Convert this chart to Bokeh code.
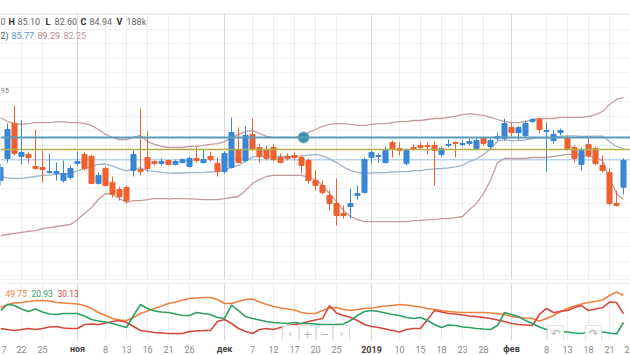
from bokeh.plotting import figure
from bokeh.layouts import column
from bokeh.models import ColumnDataSource, Range1d, Span, Label, Grid, FixedTicker
from bokeh.core.properties import value
from bokeh.embed import file_html
from bokeh.resources import INLINE

# ---------------- data ----------------
dates = [
    "2018-10-17", "2018-10-18", "2018-10-19", "2018-10-22", "2018-10-23", "2018-10-24", "2018-10-25",
    "2018-10-26", "2018-10-29", "2018-10-30", "2018-10-31",
    "2018-11-01", "2018-11-02", "2018-11-06", "2018-11-07", "2018-11-08", "2018-11-09", "2018-11-12",
    "2018-11-13", "2018-11-14", "2018-11-15", "2018-11-16", "2018-11-19", "2018-11-20", "2018-11-21",
    "2018-11-22", "2018-11-23", "2018-11-26", "2018-11-27", "2018-11-28", "2018-11-29", "2018-11-30",
    "2018-12-03", "2018-12-04", "2018-12-05", "2018-12-06", "2018-12-07", "2018-12-10", "2018-12-11",
    "2018-12-12", "2018-12-13", "2018-12-14", "2018-12-17", "2018-12-18", "2018-12-19", "2018-12-20",
    "2018-12-21", "2018-12-24", "2018-12-25", "2018-12-26", "2018-12-27", "2018-12-28", "2018-12-29",
    "2019-01-03", "2019-01-04", "2019-01-08", "2019-01-09", "2019-01-10", "2019-01-11", "2019-01-14",
    "2019-01-15", "2019-01-16", "2019-01-17", "2019-01-18", "2019-01-21", "2019-01-22", "2019-01-23",
    "2019-01-24", "2019-01-25", "2019-01-28", "2019-01-29", "2019-01-30", "2019-01-31",
    "2019-02-01", "2019-02-04", "2019-02-05", "2019-02-06", "2019-02-07", "2019-02-08", "2019-02-11",
    "2019-02-12", "2019-02-13", "2019-02-14", "2019-02-15", "2019-02-18", "2019-02-19", "2019-02-20",
    "2019-02-21", "2019-02-22", "2019-02-25",
]
next_session = "2019-02-26"

opens = [83.56, 85.08, 87.50, 85.22, 85.36, 84.53, 84.46, 84.11, 84.04, 83.56,
         83.77, 84.74, 85.36, 85.22, 83.36, 84.39, 83.42, 82.94, 83.08, 84.25,
         84.32, 85.15, 84.87, 84.74, 84.94, 84.67, 84.80, 84.53, 85.08, 84.80,
         85.22, 84.74, 84.18, 84.46, 85.70, 84.94, 86.74, 85.84, 85.70, 85.84,
         85.15, 85.22, 85.29, 85.15, 84.94, 83.56, 83.22, 82.53, 81.98, 81.29,
         81.77, 82.53, 82.73, 85.15, 85.22, 84.80, 86.18, 85.77, 84.74, 85.84,
         85.98, 85.98, 85.98, 85.36, 85.98, 86.18, 86.05, 86.11, 85.77, 86.46,
         85.91, 86.46, 86.46, 87.22, 86.87, 86.67, 87.63, 87.77, 86.94, 86.32,
         86.87, 86.46, 85.84, 84.67, 86.05, 85.77, 84.60, 84.11, 81.98, 83.10]
highs = [84.74, 87.50, 88.74, 87.70, 85.49, 87.08, 85.63, 85.43, 84.80, 84.94,
         84.60, 85.56, 85.49, 85.36, 84.11, 84.53, 83.84, 83.15, 83.22, 85.63,
         88.53, 86.94, 84.94, 85.08, 85.01, 85.01, 85.08, 85.22, 85.91, 85.63,
         85.56, 85.15, 85.56, 87.91, 87.22, 87.29, 87.84, 86.11, 85.98, 86.05,
         85.43, 85.43, 85.49, 85.29, 85.08, 84.25, 83.56, 82.87, 83.70, 81.84,
         83.01, 83.22, 85.15, 85.63, 85.43, 85.91, 86.32, 86.18, 85.77, 86.05,
         86.18, 86.18, 86.25, 85.91, 86.39, 86.25, 86.32, 86.46, 86.46, 86.60,
         86.46, 86.87, 87.84, 87.56, 87.36, 87.70, 87.84, 87.91, 87.56, 87.01,
         87.15, 86.67, 85.98, 85.84, 86.46, 85.91, 85.29, 84.39, 82.87, 85.10]
lows = [83.22, 84.80, 85.29, 84.67, 84.74, 84.32, 83.42, 84.04, 83.56, 83.42,
        83.63, 84.60, 84.25, 83.29, 83.29, 83.15, 82.39, 82.18, 81.98, 83.84,
        83.91, 84.18, 84.60, 84.60, 84.60, 84.60, 84.74, 84.46, 84.80, 84.74,
        84.87, 83.84, 84.04, 84.39, 84.74, 84.80, 85.63, 84.80, 84.94, 84.87,
        84.74, 84.94, 84.94, 84.05, 83.36, 82.87, 82.60, 81.49, 80.46, 80.94,
        80.94, 82.25, 82.66, 84.74, 84.80, 84.74, 85.15, 85.29, 84.60, 85.63,
        85.70, 85.36, 83.22, 85.22, 85.84, 85.15, 85.91, 85.98, 85.63, 85.98,
        85.70, 86.32, 86.32, 86.60, 86.32, 86.53, 87.56, 86.80, 84.18, 86.11,
        86.67, 85.63, 84.80, 84.25, 85.15, 84.60, 84.11, 81.84, 81.77, 82.60]
closes = [84.46, 87.08, 85.43, 85.49, 85.15, 84.39, 84.32, 84.18, 84.18, 84.04,
          84.39, 84.87, 84.39, 83.36, 83.91, 83.22, 82.60, 82.46, 82.18, 85.36,
          84.18, 84.39, 84.74, 84.87, 84.67, 84.87, 85.01, 85.08, 84.94, 85.01,
          85.01, 84.18, 85.43, 86.87, 84.80, 86.67, 85.77, 85.22, 85.08, 85.01,
          84.80, 85.08, 85.15, 84.60, 83.56, 83.22, 82.73, 81.98, 81.15, 81.15,
          81.98, 82.66, 85.01, 85.49, 85.29, 85.70, 85.77, 85.63, 85.63, 85.70,
          85.84, 85.91, 85.63, 85.77, 86.05, 86.11, 86.11, 86.25, 86.32, 86.11,
          86.32, 86.60, 87.49, 86.87, 87.22, 87.49, 87.77, 87.08, 87.01, 86.74,
          87.01, 85.77, 85.08, 85.63, 85.29, 84.74, 84.25, 81.98, 81.84, 84.94]

# Bollinger bands (20, 2)
bb_upper = [87.91, 87.63, 87.49, 87.43, 87.49, 87.56, 87.56, 87.56, 87.60, 87.60,
            87.56, 87.56, 87.49, 87.36, 87.08, 86.74, 86.53, 86.39, 86.39, 86.53,
            86.67, 86.25, 86.05, 85.91, 85.84, 85.84, 85.84, 85.91, 85.91, 85.98,
            86.05, 86.11, 86.25, 86.53, 86.74, 86.94, 87.01, 86.80, 86.60, 86.53,
            86.53, 86.53, 86.53, 86.60, 86.87, 87.08, 87.29, 87.43, 87.49, 87.49,
            87.43, 87.36, 87.36, 87.43, 87.49, 87.49, 87.56, 87.63, 87.63, 87.70,
            87.70, 87.77, 87.84, 87.84, 87.91, 87.98, 88.11, 88.18, 88.11, 88.05,
            87.91, 87.77, 87.63, 87.56, 87.56, 87.63, 87.77, 87.84, 87.84, 87.84,
            87.91, 87.91, 87.91, 87.91, 87.98, 88.11, 88.32, 88.80, 89.15, 89.29]
bb_middle = [83.84, 83.74, 83.70, 83.71, 83.77, 83.84, 83.91, 83.94, 84.00, 84.03,
             84.05, 84.22, 84.39, 84.53, 84.67, 84.70, 84.57, 84.36, 84.22, 84.36,
             84.43, 84.25, 84.19, 84.12, 84.07, 84.08, 84.08, 84.11, 84.10, 84.12,
             84.15, 84.18, 84.29, 84.46, 84.60, 84.91, 85.19, 85.22, 85.22, 85.22,
             85.22, 85.22, 85.22, 85.26, 85.32, 85.36, 85.26, 85.05, 84.80, 84.49,
             84.26, 84.12, 84.05, 84.08, 84.11, 84.11, 84.15, 84.18, 84.18, 84.25,
             84.25, 84.32, 84.36, 84.39, 84.43, 84.50, 84.60, 84.87, 85.05, 85.36,
             85.74, 86.29, 86.36, 86.32, 86.32, 86.36, 86.46, 86.50, 86.50, 86.53,
             86.60, 86.64, 86.64, 86.60, 86.60, 86.63, 86.63, 86.25, 85.91, 85.77]
bb_lower = [79.77, 79.84, 79.91, 79.98, 80.05, 80.11, 80.25, 80.32, 80.39, 80.46,
            80.53, 80.87, 81.29, 81.70, 82.25, 82.66, 82.60, 82.32, 82.05, 82.18,
            82.18, 82.25, 82.32, 82.32, 82.30, 82.32, 82.32, 82.30, 82.28, 82.25,
            82.25, 82.25, 82.32, 82.39, 82.46, 82.87, 83.36, 83.63, 83.84, 83.91,
            83.91, 83.91, 83.91, 83.91, 83.77, 83.63, 83.22, 82.66, 82.11, 81.49,
            81.08, 80.87, 80.73, 80.73, 80.73, 80.73, 80.73, 80.73, 80.73, 80.80,
            80.80, 80.87, 80.87, 80.94, 80.94, 81.01, 81.08, 81.56, 81.98, 82.66,
            83.56, 84.80, 85.08, 85.08, 85.08, 85.08, 85.15, 85.15, 85.15, 85.22,
            85.29, 85.36, 85.36, 85.29, 85.22, 85.15, 84.94, 83.70, 82.66, 82.25]

# lower pane indicator (ADX / +DI / -DI)
adx = [36.9, 40.1, 41.7, 42.2, 43.3, 44.4, 44.4, 43.9, 42.2, 41.7,
       41.2, 40.6, 39.0, 35.9, 31.6, 28.4, 25.2, 23.6, 23.1, 26.3,
       30.5, 33.2, 35.9, 38.5, 41.2, 42.7, 44.9, 46.5, 47.0, 47.6,
       47.6, 45.4, 41.2, 41.2, 43.3, 45.4, 46.0, 42.7, 40.1, 38.0,
       36.4, 35.3, 34.3, 31.6, 30.5, 30.5, 33.7, 36.4, 36.9, 34.8,
       33.7, 34.8, 35.9, 36.4, 37.4, 38.5, 39.0, 40.1, 39.6, 38.5,
       37.4, 35.9, 34.8, 33.7, 32.7, 32.1, 31.6, 31.6, 31.6, 31.6,
       31.1, 30.5, 29.5, 27.3, 26.3, 25.7, 25.2, 22.6, 25.2, 28.4,
       32.7, 35.9, 38.5, 40.6, 42.2, 43.3, 44.9, 49.7, 53.4, 49.75]
di_plus = [33.7, 40.1, 39.0, 35.3, 32.7, 35.3, 32.1, 30.0, 29.5, 30.5,
           30.5, 30.5, 27.9, 24.1, 22.6, 21.5, 19.9, 17.8, 15.6, 28.4,
           40.1, 35.9, 33.2, 32.1, 31.6, 30.0, 28.4, 28.4, 31.6, 30.5,
           29.5, 26.3, 25.2, 39.5, 33.7, 27.3, 25.2, 23.6, 22.0, 21.0,
           20.4, 19.9, 21.0, 19.9, 19.9, 19.4, 18.8, 18.8, 18.8, 19.4,
           23.1, 28.4, 32.7, 33.7, 32.7, 31.1, 29.5, 28.4, 26.3, 25.2,
           26.3, 23.1, 18.8, 15.6, 18.3, 17.8, 16.2, 15.6, 14.6, 14.0,
           13.5, 17.8, 31.6, 29.5, 27.3, 23.1, 19.9, 16.2, 13.5, 12.4,
           11.4, 10.8, 9.8, 9.3, 10.8, 11.9, 10.8, 9.8, 8.7, 20.93]
di_minus = [14.6, 13.5, 12.4, 13.5, 14.6, 13.5, 14.6, 16.2, 16.7, 15.1,
            14.6, 14.6, 18.8, 19.4, 18.8, 20.4, 22.0, 23.1, 21.0, 16.7,
            12.4, 11.4, 10.3, 9.8, 9.3, 9.3, 9.3, 11.4, 11.9, 12.4,
            12.4, 22.0, 24.1, 19.9, 14.6, 11.4, 9.3, 13.5, 14.6, 13.5,
            15.6, 17.8, 18.8, 19.9, 22.0, 23.6, 25.2, 39.0, 31.1, 28.4,
            26.3, 23.1, 18.8, 16.7, 15.6, 14.0, 12.4, 10.8, 13.5, 14.6,
            14.6, 24.1, 33.7, 32.1, 30.5, 30.0, 28.9, 27.9, 27.3, 26.3,
            25.2, 23.6, 22.0, 19.9, 18.8, 18.3, 17.8, 29.5, 35.9, 31.6,
            32.7, 33.7, 36.9, 39.0, 33.7, 35.3, 36.9, 42.7, 42.2, 30.13]

level_blue = 86.53
level_olive = 85.70
price_line = 85.00
marker_bar = 43.3

# tick labels: the first and last ones are only partly visible at the picture's edges
tick_dates = ["2018-10-22", "2018-10-25", "2018-11-01", "2018-11-08", "2018-11-13",
              "2018-11-16", "2018-11-21", "2018-11-26", "2018-12-03", "2018-12-07", "2018-12-12",
              "2018-12-17", "2018-12-20", "2018-12-25", "2019-01-03", "2019-01-10", "2019-01-15",
              "2019-01-18", "2019-01-23", "2019-01-28", "2019-02-01", "2019-02-08", "2019-02-13",
              "2019-02-18", "2019-02-21"]
tick_labels = ["22", "25", "ноя", "8", "13", "16", "21", "26", "дек", "7", "12", "17", "20",
               "25", "2019", "10", "15", "18", "23", "28", "фев", "8", "13", "18", "21"]
edge_tick_dates = ["2018-10-17", "2019-02-26"]
edge_tick_visible = ["7", "2"]
month_labels = ["ноя", "дек", "2019", "фев"]

header_ohlc = [("0", False), ("H", True), ("85.10", False), ("L", True), ("82.60", False),
               ("C", True), ("84.94", False), ("V", True), ("188k", False)]
header_bb = ["2)", "85.77", "89.29", "82.25"]
header_ind = ["49.75", "20.93", "30.13"]

# ---------------- styling / layout helpers ----------------
FONT = "Roboto"
UP = "#3a86d4"
DOWN = "#ee6030"
PX_PER_BAR = 7.0
TOP_PRICE_AT_148 = 85.77
PX_PER_PRICE = 14.5

calendar = dates + [next_session]
xs = list(range(len(dates)))
tick_pos = [calendar.index(d) for d in tick_dates]
day_pos = [p for p, t in zip(tick_pos, tick_labels) if t not in month_labels]
day_txt = [t for t in tick_labels if t not in month_labels]
mon_pos = [p for p, t in zip(tick_pos, tick_labels) if t in month_labels]
mon_txt = [t for t in tick_labels if t in month_labels]
edge_pos = [calendar.index(d) for d in edge_tick_dates]


def px_x(px):
    return px / PX_PER_BAR


def px_price(py):
    return TOP_PRICE_AT_148 + (148 - py) / PX_PER_PRICE


def px_ind(py):
    return (341.7 - py) / 0.94


x_range = Range1d(0, 90)

# ---------------- price pane ----------------
p = figure(width=630, height=281, x_range=x_range, y_range=Range1d(px_price(279), px_price(13)),
           output_backend="svg", toolbar_location=None, x_axis_location=None, y_axis_location=None,
           min_border_left=0, min_border_right=0, min_border_top=13, min_border_bottom=2,
           background_fill_color="white", border_fill_color="white", outline_line_color=None)
p.xgrid.visible = False
p.ygrid.visible = False
p.add_layout(Grid(dimension=1, ticker=FixedTicker(ticks=list(range(70, 100))),
                  grid_line_color="#f1f1f1", grid_line_width=1))
p.add_layout(Grid(dimension=0, ticker=FixedTicker(ticks=day_pos + edge_pos),
                  grid_line_color="#ececec", grid_line_width=1))
p.add_layout(Grid(dimension=0, ticker=FixedTicker(ticks=mon_pos),
                  grid_line_color="#d6d6d6", grid_line_width=1))
p.add_layout(Span(location=px_price(13), dimension="width", line_color="#dddddd", line_width=1))
p.add_layout(Span(location=px_price(279), dimension="width", line_color="#dddddd", line_width=1))

p.add_layout(Span(location=price_line, dimension="width", line_color="#b8d4f0", line_width=1.5,
                  level="underlay"))

p.line(xs, bb_upper, line_color="#c39c9c", line_width=1.3)
p.line(xs, bb_lower, line_color="#c39c9c", line_width=1.3)
p.line(xs, bb_middle, line_color="#9fb3cc", line_width=1.3)

colors = [UP if c >= o else DOWN for o, c in zip(opens, closes)]
src = ColumnDataSource(dict(
    x=xs, high=highs, low=lows,
    top=[max(o, c) for o, c in zip(opens, closes)],
    bottom=[min(o, c) for o, c in zip(opens, closes)],
    color=colors))
p.segment(x0="x", y0="high", x1="x", y1="low", line_color="color", line_width=1, source=src)
p.vbar(x="x", width=0.72, top="top", bottom="bottom", fill_color="color", line_color="color",
       line_width=1, source=src)

p.add_layout(Span(location=level_blue, dimension="width", line_color="#5a9dba", line_width=2))
p.add_layout(Span(location=level_olive, dimension="width", line_color="#b3ae4c", line_width=1.5))
p.scatter([marker_bar], [level_blue], size=11, fill_color="#3f8fa9", line_color="#6fb0c6",
          line_width=1)

# header texts
hx = [0, 8, 17, 45, 54, 80, 89, 116, 126]
for (txt, bold), xx in zip(header_ohlc, hx):
    p.add_layout(Label(x=px_x(xx), y=px_price(21), text=txt, text_font=FONT, text_font_size="9px",
                       text_font_style="bold" if bold else "normal",
                       text_color="#333333" if bold else "#6a6a6a",
                       text_baseline="middle", text_align="left"))
bb_cols = ["#555555", "#5b95d0", "#b88888", "#c49494"]
bb_x = [0, 11, 37, 63]
for txt, col, xx in zip(header_bb, bb_cols, bb_x):
    p.add_layout(Label(x=px_x(xx), y=px_price(35), text=txt, text_font=FONT, text_font_size="9px",
                       text_color=col, text_baseline="middle", text_align="left"))
p.add_layout(Label(x=px_x(0), y=px_price(90), text="95", text_font=FONT, text_font_size="7.5px",
                   text_color="#888888", text_baseline="middle", text_align="left"))

# ---------------- indicator pane ----------------
q = figure(width=630, height=59, x_range=x_range, y_range=Range1d(px_ind(340), px_ind(283)),
           output_backend="svg", toolbar_location=None, x_axis_location=None, y_axis_location=None,
           min_border_left=0, min_border_right=0, min_border_top=2, min_border_bottom=0,
           background_fill_color="white", border_fill_color="white", outline_line_color=None)
q.xgrid.visible = False
q.ygrid.visible = False
q.add_layout(Grid(dimension=0, ticker=FixedTicker(ticks=day_pos + edge_pos),
                  grid_line_color="#ececec", grid_line_width=1))
q.add_layout(Grid(dimension=0, ticker=FixedTicker(ticks=mon_pos),
                  grid_line_color="#d6d6d6", grid_line_width=1))
q.add_layout(Span(location=px_ind(283), dimension="width", line_color="#dddddd", line_width=1))

ind_cols = ["#f08040", "#2fa060", "#d4483c"]
q.line(xs, adx, line_color=ind_cols[0], line_width=1.6)
q.line(xs, di_minus, line_color=ind_cols[2], line_width=1.6)
q.line(xs, di_plus, line_color=ind_cols[1], line_width=1.6)

for txt, col, xx in zip(header_ind, ind_cols, [5, 31, 57]):
    q.add_layout(Label(x=px_x(xx), y=px_ind(293), text=txt, text_font=FONT, text_font_size="8.5px",
                       text_color=col, text_baseline="middle", text_align="left"))

# navigation overlay buttons
btn_left = [282, 299, 316, 333, 547, 585]
btn_txt = ["‹", "+", "−", "›", "↶", "↷"]
q.quad(left=[px_x(b) for b in btn_left], right=[px_x(b + 16) for b in btn_left],
       top=[px_ind(325)] * len(btn_left), bottom=[px_ind(342)] * len(btn_left),
       fill_color="white", fill_alpha=0.85, line_color="#e2e2e2", line_width=1)
q.text(x=[px_x(b + 8) for b in btn_left], y=[px_ind(333)] * len(btn_left), text=btn_txt,
       text_font=value("DejaVu Sans"), text_font_size="11px", text_color="#b5b5b5",
       text_align="center", text_baseline="middle")

# ---------------- date label strip ----------------
r = figure(width=630, height=15, x_range=x_range, y_range=Range1d(0, 15),
           output_backend="svg", toolbar_location=None, x_axis_location=None, y_axis_location=None,
           min_border_left=0, min_border_right=0, min_border_top=0, min_border_bottom=0,
           background_fill_color="white", border_fill_color="white", outline_line_color=None)
r.xgrid.visible = False
r.ygrid.visible = False
ylab = 6.5
r.text(x=day_pos, y=[ylab] * len(day_pos), text=day_txt, text_font=value(FONT),
       text_font_size="9px", text_color="#888888", text_align="center", text_baseline="middle")
r.text(x=mon_pos, y=[ylab] * len(mon_pos), text=mon_txt, text_font=value(FONT),
       text_font_size="9px", text_font_style=value("bold"), text_color="#444444",
       text_align="center", text_baseline="middle")
r.text(x=[px_x(1)], y=[ylab], text=[edge_tick_visible[0]], text_font=value(FONT),
       text_font_size="9px", text_color="#888888", text_align="left", text_baseline="middle")
r.text(x=[px_x(629)], y=[ylab], text=[edge_tick_visible[1]], text_font=value(FONT),
       text_font_size="9px", text_color="#888888", text_align="right", text_baseline="middle")

layout = column(p, q, r, spacing=0)
open("out.html", "w").write(file_html(layout, INLINE))
